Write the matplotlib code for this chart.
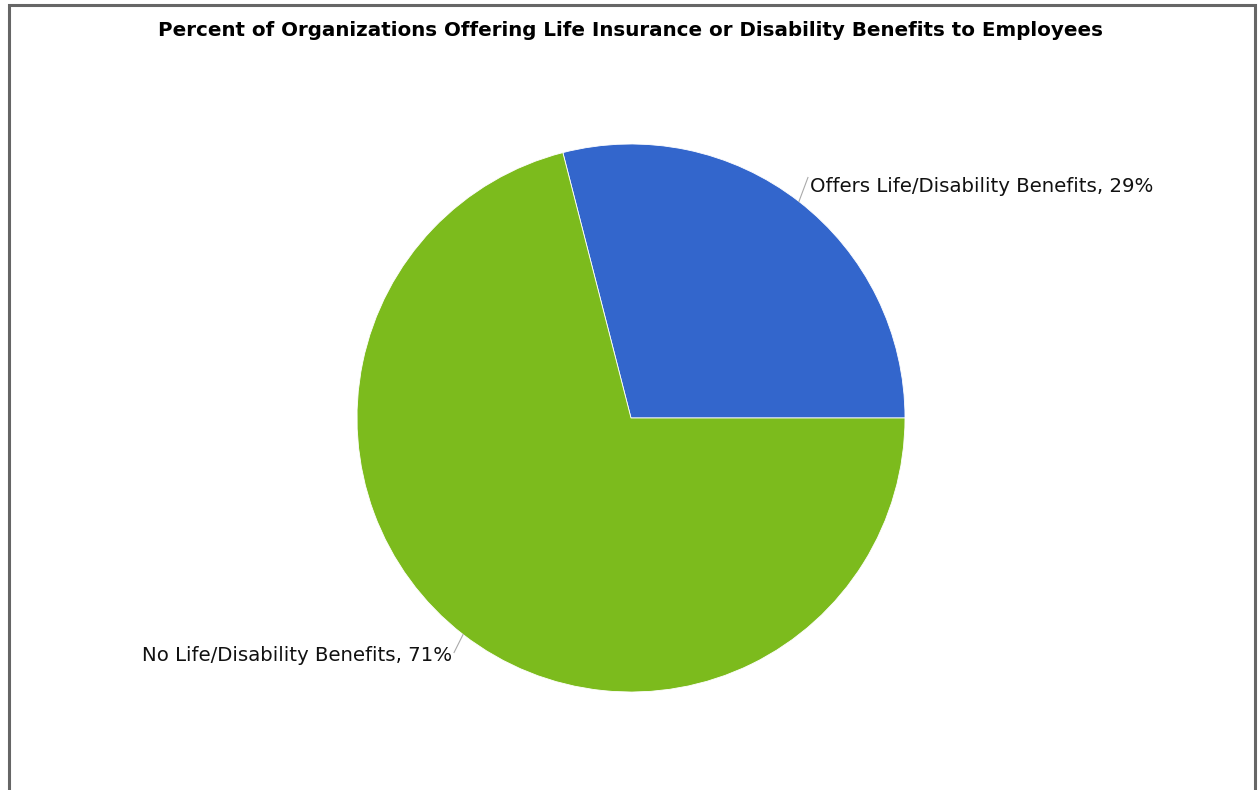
import numpy as np
import matplotlib.pyplot as plt

# share of organizations (percent)
labels = ["Offers Life/Disability Benefits", "No Life/Disability Benefits"]
shares = [29, 71]
colors = ["#3366cc", "#7cbb1d"]

title = "Percent of Organizations Offering Life Insurance or Disability Benefits to Employees"

W, H = 1260, 790
fig = plt.figure(figsize=(W / 100, H / 100), dpi=100)
ax = fig.add_axes([0, 0, 1, 1])

# outer frame (open at the bottom)
ax.plot([9, 9, 1255, 1255], [0, H - 5, H - 5, 0], color="#666666", lw=2.2,
        solid_joinstyle="miter", clip_on=False)

cx, cy, r = 631, 372, 274
wedges, _ = ax.pie(shares, colors=colors, startangle=0, counterclock=True,
                   center=(cx, cy), radius=r, frame=True,
                   wedgeprops=dict(edgecolor="white", linewidth=0.6))
ax.set_xlim(0, W)
ax.set_ylim(0, H)
ax.set_aspect("equal")
ax.axis("off")

# leader line + label for each slice
for w, lab, val in zip(wedges, labels, shares):
    mid = np.deg2rad((w.theta1 + w.theta2) / 2)
    ex, ey = cx + r * np.cos(mid), cy + r * np.sin(mid)
    if np.cos(mid) >= 0:
        tx, ty = ex + 9, ey + 24
        ax.plot([ex, tx], [ey, ty], color="#aaaaaa", lw=0.8)
        ax.text(tx + 2, ty - 9, f"{lab}, {val}%", ha="left", va="center",
                fontsize=14.2, family="DejaVu Sans", color="#111111")
    else:
        tx, ty = ex - 9, ey - 18
        ax.plot([ex, tx], [ey, ty], color="#aaaaaa", lw=0.8)
        ax.text(tx - 2, ty - 3, f"{lab}, {val}%", ha="right", va="center",
                fontsize=14.2, family="DejaVu Sans", color="#111111")

fig.text(0.5, 1 - 30 / H, title, ha="center", va="center",
         fontsize=14.3, fontweight="bold", family="DejaVu Sans")

fig.savefig("out.png", dpi=100, facecolor="white")
